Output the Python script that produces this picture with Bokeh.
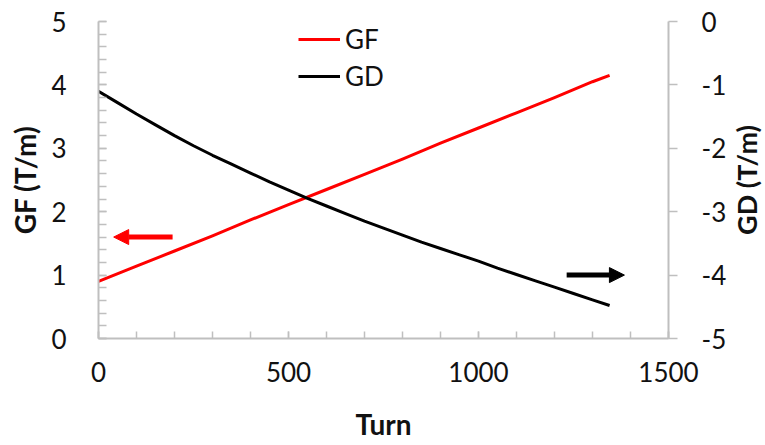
import math
from bokeh.plotting import figure
from bokeh.models import (Range1d, LinearAxis, SingleIntervalTicker, Legend, LegendItem,
                          Arrow, NormalHead, PrintfTickFormatter, Label)
from bokeh.embed import file_html
from bokeh.resources import INLINE

# ---- data ----
gf_turns = [0, 100, 200, 300, 400, 500, 600, 700, 800, 900, 1000, 1100, 1200, 1300, 1345]
gf = [0.90, 1.14, 1.38, 1.62, 1.87, 2.11, 2.35, 2.59, 2.83, 3.08, 3.32, 3.56, 3.80, 4.05, 4.15]

gd_turns = [0, 50, 100, 150, 200, 250, 300, 350, 400, 450, 500, 550, 600, 650, 700,
            750, 800, 850, 900, 950, 1000, 1050, 1100, 1150, 1200, 1250, 1300, 1345]
gd = [-1.10, -1.28, -1.46, -1.63, -1.80, -1.96, -2.11, -2.25, -2.39, -2.53, -2.66, -2.79,
      -2.91, -3.03, -3.15, -3.26, -3.37, -3.48, -3.58, -3.68, -3.78, -3.89, -3.99, -4.09,
      -4.19, -4.29, -4.39, -4.48]

gf_arrow = dict(x_start=195, x_end=40, y=1.6)
gd_arrow = dict(x_start=1232, x_end=1384, y=-4.0)
gd_title_pos = dict(x=1706, y=2.5)

FONT = "Lato"
GRAY = "#BFBFBF"
TXT = "#111111"

p = figure(width=765, height=445, output_backend="svg", toolbar_location=None,
           x_range=Range1d(0, 1500), y_range=Range1d(0, 5),
           min_border_left=98, min_border_right=97, min_border_top=21, min_border_bottom=107)
p.outline_line_color = None
p.xgrid.visible = False
p.ygrid.visible = False
p.extra_y_ranges = {"gd": Range1d(-5, 0)}

l1 = p.line(gf_turns, gf, line_color="#FF0000", line_width=3, line_join="round")
l2 = p.line(gd_turns, gd, line_color="black", line_width=3, line_join="round",
            y_range_name="gd")

xa = p.xaxis[0]
xa.ticker = SingleIntervalTicker(interval=500, num_minor_ticks=5)
xa.axis_label = "Turn"
ya = p.yaxis[0]
ya.ticker = SingleIntervalTicker(interval=1, num_minor_ticks=5)
ya.axis_label = "GF (T/m)"

ra = LinearAxis(y_range_name="gd", ticker=SingleIntervalTicker(interval=1, num_minor_ticks=0),
                formatter=PrintfTickFormatter(format="%d"))
p.add_layout(ra, "right")

for ax in (xa, ya, ra):
    ax.axis_line_color = GRAY
    ax.axis_line_width = 2
    ax.major_tick_line_color = GRAY
    ax.minor_tick_line_color = GRAY
    ax.major_tick_line_width = 1.5
    ax.minor_tick_line_width = 1.5
    ax.major_label_text_font = FONT
    ax.major_label_text_font_size = "26px"
    ax.major_label_text_color = TXT
    ax.axis_label_text_font = FONT
    ax.axis_label_text_font_size = "28px"
    ax.axis_label_text_font_style = "bold"
    ax.axis_label_text_color = TXT

xa.major_tick_in = 7; xa.major_tick_out = 0
xa.minor_tick_in = 7; xa.minor_tick_out = 0
xa.major_label_standoff = 23
xa.axis_label_standoff = 22

ya.major_tick_in = 8; ya.major_tick_out = 0
ya.minor_tick_in = 8; ya.minor_tick_out = 0
ya.major_label_standoff = 32
ya.axis_label_standoff = 6

ra.major_tick_in = 0; ra.major_tick_out = 9
ra.minor_tick_in = 0; ra.minor_tick_out = 0
ra.major_label_standoff = 24

gd_label = Label(x=gd_title_pos["x"], y=gd_title_pos["y"], text="GD (T/m)", angle=math.pi / 2,
                 text_align="center", text_baseline="middle",
                 text_font=FONT, text_font_size="27px", text_font_style="bold",
                 text_color=TXT)
p.add_layout(gd_label, "right")

p.add_layout(Arrow(end=NormalHead(size=15, fill_color="#FF0000", line_color="#FF0000"),
                   x_start=gf_arrow["x_start"], y_start=gf_arrow["y"],
                   x_end=gf_arrow["x_end"], y_end=gf_arrow["y"],
                   line_color="#FF0000", line_width=5))
p.add_layout(Arrow(end=NormalHead(size=15, fill_color="black", line_color="black"),
                   x_start=gd_arrow["x_start"], y_start=gd_arrow["y"],
                   x_end=gd_arrow["x_end"], y_end=gd_arrow["y"],
                   line_color="black", line_width=5, y_range_name="gd"))

legend = Legend(items=[LegendItem(label="GF", renderers=[l1]),
                       LegendItem(label="GD", renderers=[l2])],
                location=(200, 246))
legend.border_line_color = None
legend.background_fill_alpha = 0
legend.padding = 0
legend.margin = 0
legend.spacing = 5
legend.glyph_width = 42
legend.glyph_height = 30
legend.label_height = 30
legend.label_standoff = 5
legend.label_text_font = FONT
legend.label_text_font_size = "26px"
legend.label_text_color = TXT
p.add_layout(legend)

open("out.html", "w").write(file_html(p, INLINE))
